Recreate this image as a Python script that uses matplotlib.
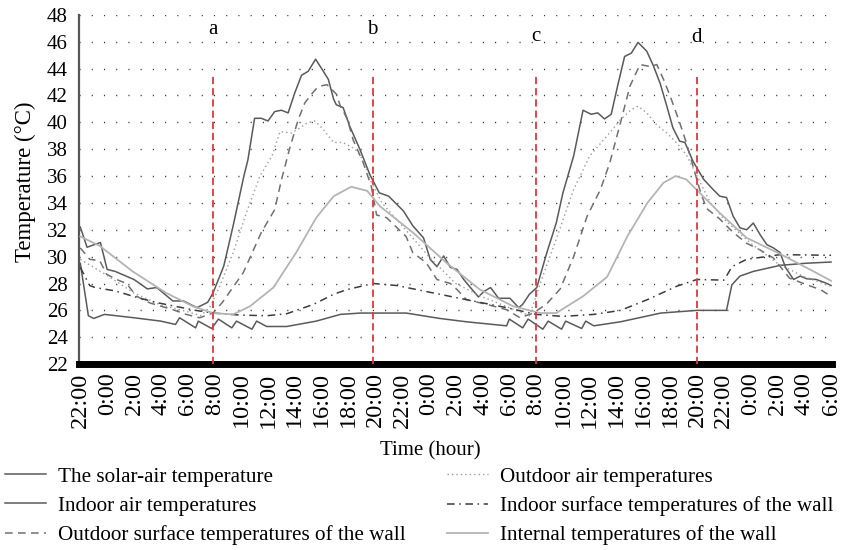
import matplotlib
matplotlib.use("Agg")
import matplotlib.pyplot as plt

# ---------------- data (hours from 22:00 on day 0) ----------------
tick_labels = ["22:00", "0:00", "2:00", "4:00", "6:00", "8:00", "10:00", "12:00",
               "14:00", "16:00", "18:00", "20:00", "22:00", "0:00", "2:00", "4:00",
               "6:00", "8:00", "10:00", "12:00", "14:00", "16:00", "18:00", "20:00",
               "22:00", "0:00", "2:00", "4:00", "6:00"]

# The solar-air temperature
sa_t = [0, 0.5, 1.5, 2.0, 2.6, 4.0, 5.0, 5.7, 6.9, 7.7, 8.7, 9.5, 9.9, 10.7, 11.4, 12.2,
        12.5, 13.0, 13.5, 14.0, 14.5, 15.0, 15.5, 16.0, 16.5, 17.0, 17.55, 18.0, 18.5,
        18.9, 19.1, 19.6, 20.1, 20.85, 21.6, 22.3, 23.0, 24.1, 24.8, 25.6, 26.1, 26.6,
        27.1, 27.6, 28.1, 28.6, 29.1, 29.7, 30.1, 30.6, 31.2, 32.05, 32.7, 33.0, 33.5,
        34.05, 34.8, 35.5, 36.0, 36.8, 37.5, 38.1, 38.6, 39.1, 39.6, 40.1, 40.6, 41.1,
        41.6, 42.25, 42.75, 43.25, 43.75, 44.2, 44.7, 45.1, 45.7, 46.5, 47.2, 47.7, 48.2,
        48.7, 49.2, 49.7, 50.2, 50.7, 51.2, 51.7, 52.2, 52.6, 53.2, 53.7, 54.2, 54.9,
        55.7, 56.0]
sa_v = [32.2, 30.7, 31.05, 29.05, 28.9, 28.3, 27.6, 27.7, 26.7, 26.7, 26.2, 26.6, 27.3,
        29.3, 32.3, 36.0, 37.2, 40.3, 40.3, 40.1, 40.8, 40.9, 40.7, 42.2, 43.5, 43.8,
        44.7, 44.0, 43.2, 41.7, 41.3, 41.1, 39.7, 38.0, 36.1, 34.75, 34.5, 33.4, 32.3,
        31.4, 29.8, 29.25, 30.05, 29.2, 29.05, 28.3, 27.7, 27.0, 27.4, 27.7, 26.9, 26.9,
        26.2, 26.45, 27.2, 27.7, 30.3, 32.5, 34.75, 37.5, 40.9, 40.6, 40.7, 40.25, 40.6,
        42.8, 44.9, 45.15, 45.95, 45.3, 44.2, 42.9, 41.2, 39.6, 38.6, 38.5, 37.1, 35.75,
        35.0, 34.5, 34.4, 33.0, 32.15, 32.0, 32.5, 31.65, 30.9, 30.65, 30.3, 29.2, 28.3,
        28.55, 28.35, 28.3, 28.0, 27.85]

# Indoor air temperatures
ia_t = [0, 0.6, 1.0, 1.8, 4.0, 6.0, 7.1, 7.4, 8.6, 8.8, 9.8, 10.3, 11.3, 11.65, 12.8,
        13.15, 13.9, 15.4, 17.6, 19.4, 20.9, 24.3, 26.8, 28.8, 31.8, 32.0, 33.0, 33.4,
        34.5, 34.9, 35.9, 36.2, 37.4, 37.7, 38.3, 40.3, 43.3, 46.0, 48.2, 48.6, 49.2,
        50.2, 52.2, 54.0, 56.0]
ia_v = [29.5, 25.6, 25.4, 25.7, 25.45, 25.2, 24.95, 25.45, 24.7, 25.2, 24.65, 25.35,
        24.7, 25.2, 24.6, 25.2, 24.8, 24.8, 25.2, 25.7, 25.8, 25.8, 25.4, 25.15, 24.85,
        25.35, 24.7, 25.35, 24.6, 25.2, 24.6, 25.2, 24.65, 25.2, 24.85, 25.15, 25.8,
        26.0, 26.0, 27.9, 28.55, 28.9, 29.35, 29.5, 29.6]

# Outdoor surface temperatures of the wall
os_t = [0, 0.7, 1.45, 1.95, 2.7, 3.45, 4.2, 5.2, 6.9, 7.9, 8.9, 9.9, 10.6, 12.15, 13.5,
        14.5, 15.0, 15.6, 16.25, 16.75, 17.25, 17.6, 17.9, 18.4, 18.75, 19.1, 19.4, 19.9,
        20.35, 21.1, 21.7, 22.1, 22.85, 24.3, 24.8, 25.8, 26.6, 27.6, 28.1, 28.8, 30.3,
        31.8, 32.8, 33.8, 34.8, 35.8, 36.8, 37.8, 38.8, 39.5, 40.3, 41.0, 41.75, 42.5,
        43.0, 43.5, 44.0, 44.7, 45.2, 45.7, 46.2, 46.7, 47.7, 48.7, 49.7, 50.7, 51.7,
        52.9, 54.2, 55.2, 56.0]
os_v = [30.65, 29.8, 29.7, 28.7, 28.3, 28.0, 27.05, 26.55, 26.05, 25.7, 25.45, 25.8,
        26.6, 28.8, 31.8, 33.5, 35.7, 38.0, 40.2, 41.45, 42.1, 42.5, 42.7, 42.8, 42.45,
        42.1, 41.2, 40.3, 38.7, 37.0, 35.25, 33.1, 32.9, 31.5, 30.3, 29.55, 28.3, 28.0,
        27.55, 26.8, 26.45, 26.05, 25.45, 25.8, 26.5, 27.6, 30.0, 33.0, 35.0, 37.0, 40.0,
        42.7, 44.3, 44.15, 44.3, 43.2, 41.95, 40.0, 38.5, 36.75, 35.0, 33.6, 32.8, 31.8,
        31.0, 30.5, 29.9, 28.4, 27.9, 27.55, 27.05]

# Outdoor air temperatures
oa_t = [0, 2.0, 4.0, 6.0, 8.0, 9.0, 9.7, 10.4, 11.4, 12.4, 13.4, 14.3, 14.9, 15.75,
        16.4, 16.9, 17.5, 18.1, 18.9, 19.6, 20.5, 21.1, 21.6, 22.5, 24.0, 26.0, 28.0,
        30.0, 32.0, 33.5, 34.5, 35.5, 36.8, 38.0, 39.3, 40.3, 41.1, 41.6, 42.25, 43.0,
        43.75, 44.5, 45.2, 46.0, 47.0, 48.0, 50.0, 52.0, 54.0, 56.0]
oa_v = [29.8, 28.6, 27.3, 26.4, 25.9, 25.6, 26.3, 27.8, 30.3, 33.3, 36.0, 37.5, 39.3,
        39.2, 39.6, 39.95, 40.1, 39.5, 38.5, 38.5, 38.0, 37.2, 35.75, 34.0, 32.3, 30.0,
        28.0, 27.0, 26.2, 25.6, 28.55, 31.3, 35.0, 37.5, 39.0, 40.2, 40.95, 41.2, 40.7,
        39.8, 39.2, 38.45, 37.6, 36.0, 34.0, 32.8, 31.0, 29.5, 28.5, 27.8]

# Indoor surface temperatures of the wall
is_t = [0, 0.7, 1.1, 2.6, 4.1, 5.6, 7.1, 8.6, 9.9, 11.9, 13.9, 15.4, 17.4, 18.9, 19.9,
        21.85, 23.6, 26.8, 29.3, 31.8, 34.0, 36.0, 38.3, 40.3, 42.3, 44.5, 46.0, 48.0,
        48.2, 48.6, 49.7, 52.2, 56.0]
is_v = [29.2, 27.85, 27.7, 27.45, 27.0, 26.6, 26.3, 26.0, 25.8, 25.65, 25.6, 25.75,
        26.45, 27.2, 27.55, 28.0, 27.85, 27.2, 26.7, 26.2, 25.7, 25.55, 25.7, 26.0, 26.8,
        27.8, 28.3, 28.25, 28.55, 29.25, 29.8, 30.15, 30.1]

# Internal temperatures of the wall
iw_t = [0, 1.45, 3.9, 6.4, 8.4, 9.9, 11.4, 12.65, 14.4, 16.1, 17.6, 18.9, 20.2, 21.4,
        22.35, 24.8, 27.3, 29.8, 32.3, 34.3, 35.5, 37.5, 39.3, 40.8, 42.3, 43.5, 44.4,
        45.2, 46.2, 47.7, 49.7, 52.2, 54.7, 56.0]
iw_v = [31.5, 30.8, 28.9, 27.3, 26.3, 25.8, 25.7, 26.3, 27.7, 30.3, 32.9, 34.5, 35.2,
        34.9, 33.75, 31.8, 29.55, 27.55, 26.3, 25.8, 25.8, 27.05, 28.5, 31.5, 34.0, 35.5,
        36.0, 35.75, 34.75, 33.25, 31.4, 30.2, 28.9, 28.2]

# marker lines a-d
mark_labels = ["a", "b", "c", "d"]
mark_t = [9.9, 21.8, 34.0, 46.0]
mark_label_y = [46.9, 46.9, 46.4, 46.3]
mark_top = 43.6

series_names = ["The solar-air temperature", "Indoor air temperatures",
                "Outdoor surface temperatures of the wall", "Outdoor air temperatures",
                "Indoor surface temperatures of the wall", "Internal temperatures of the wall"]

# ---------------- plotting ----------------
FONT = "Liberation Serif"
plt.rcParams["font.family"] = [FONT, "DejaVu Serif"]

fig = plt.figure(figsize=(8.42, 5.5), dpi=100)
ax = fig.add_axes([0.0938, 0.338, 0.894, 0.635])

styles = [
    dict(color="#5a5a5a", lw=1.1, ls="-"),
    dict(color="#5a5a5a", lw=1.1, ls="-"),
    dict(color="#707070", lw=1.1, ls=(0, (5, 3.5))),
    dict(color="#9a9a9a", lw=1.0, ls=(0, (1, 2.2))),
    dict(color="#3c3c3c", lw=1.1, ls=(0, (5, 3, 1, 3))),
    dict(color="#b4b4b4", lw=1.3, ls="-"),
]
data = [(sa_t, sa_v), (ia_t, ia_v), (os_t, os_v), (oa_t, oa_v), (is_t, is_v), (iw_t, iw_v)]
handles = []
for (tt, vv), st, name in zip(data, styles, series_names):
    h, = ax.plot(tt, vv, color=st["color"], lw=st["lw"], linestyle=st["ls"], label=name,
                 zorder=3)
    handles.append(h)

for t, lab, ly in zip(mark_t, mark_labels, mark_label_y):
    ax.plot([t, t], [22, mark_top], color="#e8343a", lw=1.3, linestyle=(0, (4, 2.2)),
            zorder=4)
    ax.text(t, ly, lab, ha="center", va="center", fontsize=15, family=FONT)

ax.set_xlim(-0.1, 56.05)
ax.set_ylim(22, 48)
ax.set_yticks(range(22, 49, 2))
ax.set_yticklabels([str(v) for v in range(22, 49, 2)], fontsize=15)
ax.set_xticks(range(0, 57, 2))
ax.set_xticklabels(tick_labels, rotation=90, fontsize=17.5)
ax.tick_params(axis="both", length=0)
ax.tick_params(axis="y", pad=8)
ax.tick_params(axis="x", pad=6)

ax.yaxis.grid(True, linestyle=(0, (0.8, 8)), color="#333333", linewidth=1.0)
ax.set_axisbelow(True)
for s in ["top", "right"]:
    ax.spines[s].set_visible(False)
ax.spines["left"].set_color("#555555")
ax.spines["left"].set_linewidth(1.6)
ax.spines["bottom"].set_color("black")
ax.spines["bottom"].set_linewidth(5)

fig.text(25 / 842, 1 - 182 / 550, "Temperature (°C)", rotation=90, ha="center",
         va="center", fontsize=16.5)
fig.text(430 / 842, 1 - 451 / 550, "Time (hour)", ha="center", va="center", fontsize=15)

leg_kw = dict(frameon=False, fontsize=15.2, handlelength=1.95, handletextpad=0.55,
              labelspacing=0.44, borderpad=0, borderaxespad=0, loc="upper left")
l1 = fig.legend(handles[:3], series_names[:3], bbox_to_anchor=(5 / 842, 1 - 467 / 550),
                **leg_kw)
l2 = fig.legend(handles[3:], series_names[3:], bbox_to_anchor=(447 / 842, 1 - 467 / 550),
                **leg_kw)

fig.savefig("out.png", dpi=100)
